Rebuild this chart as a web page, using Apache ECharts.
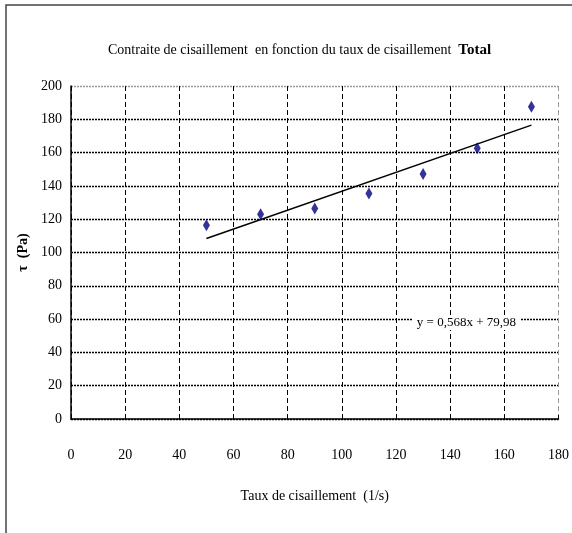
<!DOCTYPE html>
<html>
<head>
<meta charset="utf-8">
<script src="https://cdn.jsdelivr.net/npm/echarts@6/dist/echarts.min.js"></script>
<style>
    html, body { margin: 0; padding: 0; background: #fff; }
    #chart { width: 572px; height: 533px; }
</style>
</head>
<body>
<div id="chart"></div>
<script>
// valeurs
var tauxCisaillement = [50, 70, 90, 110, 130, 150, 170];
var contrainte = [116.3, 122.9, 126.5, 135.5, 147.1, 162.6, 187.6];
// courbe de tendance (extrémités lues)
var trendX = [50, 170];
var trendY = [108.4, 176.5];
var equation = 'y = 0,568x + 79,98';
var equationPos = [146, 58];

var font = '"Liberation Serif", "Times New Roman", serif';

var chart = echarts.init(document.getElementById('chart'));

// grille: lignes noires, la dernière (bord du tracé) en gris
var yLineColors = [];
for (var i = 0; i <= 10; i++) yLineColors.push(i === 10 ? '#999' : '#000');
var xLineColors = [];
for (var j = 0; j <= 9; j++) xLineColors.push(j === 9 ? '#999' : '#000');

chart.setOption({
    backgroundColor: '#fff',
    animation: false,
    title: {
        text: '{n|Contraite de cisaillement  en fonction du taux de cisaillement  }{b|Total}',
        left: 103,
        top: 38,
        textStyle: {
            fontWeight: 'normal',
            rich: {
                n: { fontFamily: font, fontSize: 14, fontWeight: 'normal', color: '#000' },
                b: { fontFamily: font, fontSize: 15, fontWeight: 'bold', color: '#000' }
            }
        }
    },
    graphic: [{
        type: 'rect',
        shape: { x: 6, y: 5, width: 700, height: 700 },
        style: { fill: 'none', stroke: '#444', lineWidth: 1.5 },
        silent: true
    }],
    grid: { left: 71, right: 13, top: 86, bottom: 114 },
    xAxis: {
        type: 'value',
        min: 0,
        max: 180,
        interval: 20,
        name: 'Taux de cisaillement  (1/s)',
        nameLocation: 'middle',
        nameGap: 70,
        nameTextStyle: { fontFamily: font, fontSize: 14, color: '#000' },
        axisLine: { onZero: false, lineStyle: { color: '#000', width: 1.5 } },
        axisTick: { show: true, inside: true, length: 4, lineStyle: { color: '#000' } },
        axisLabel: { fontFamily: font, fontSize: 14, color: '#000', margin: 29 },
        splitLine: { show: true, lineStyle: { color: xLineColors, type: [5, 3], width: 1 } }
    },
    yAxis: {
        type: 'value',
        min: 0,
        max: 200,
        interval: 20,
        name: 'τ  (Pa)',
        nameLocation: 'middle',
        nameGap: 33,
        nameTextStyle: { fontFamily: font, fontSize: 14, fontWeight: 'bold', color: '#000' },
        axisLine: { show: true, lineStyle: { color: '#000', width: 1.5 } },
        axisTick: { show: false },
        axisLabel: { fontFamily: font, fontSize: 14, color: '#000', margin: 9 },
        splitLine: { show: true, lineStyle: { color: yLineColors, type: [2, 1], width: 1.3 } }
    },
    series: [
        {
            type: 'line',
            data: trendX.map(function (x, k) { return [x, trendY[k]]; }),
            symbol: 'none',
            lineStyle: { color: '#000', width: 1.5 },
            z: 3,
            markPoint: {
                symbol: 'rect',
                symbolSize: 1,
                itemStyle: { color: 'rgba(0,0,0,0)' },
                label: {
                    show: true,
                    position: 'inside',
                    formatter: equation,
                    fontFamily: font,
                    fontSize: 13,
                    color: '#000',
                    backgroundColor: '#fff',
                    padding: [1, 4]
                },
                data: [{ coord: equationPos }]
            }
        },
        {
            type: 'scatter',
            data: tauxCisaillement.map(function (x, k) { return [x, contrainte[k]]; }),
            symbol: 'diamond',
            symbolSize: [7, 12],
            itemStyle: { color: '#000080' },
            z: 4
        }
    ]
});
</script>
</body>
</html>
